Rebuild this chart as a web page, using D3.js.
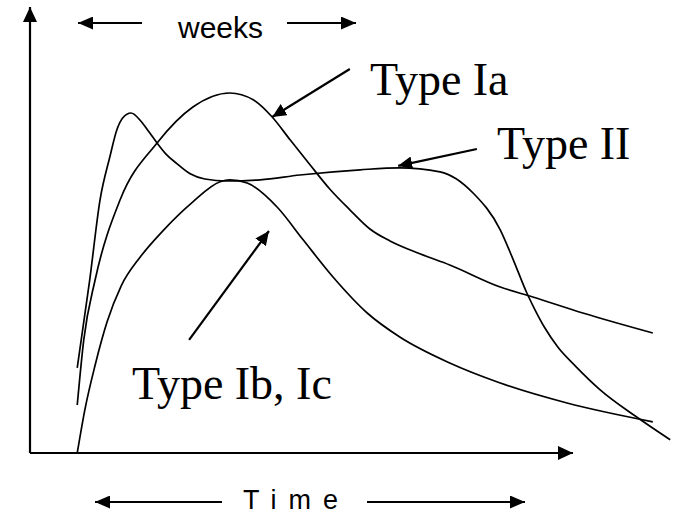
<!DOCTYPE html>
<html>
<head>
<meta charset="utf-8">
<script src="https://cdn.jsdelivr.net/npm/d3@7"></script>
<style>
  html, body { margin: 0; padding: 0; background: #fff; }
  svg { display: block; }
</style>
</head>
<body>
<svg id="chart" width="679" height="515"></svg>
<script>
// light curve sketches: time (days) vs brightness (arbitrary units)
const typeII_t = [8.7, 11.0, 12.9, 14.7, 16.0, 17.1, 18.6, 20.4, 21.9, 23.4, 25.0, 27.1, 29.5, 32.2, 36.3, 42.4, 49.7, 60.8, 68.1, 75.5, 81.6, 86.6, 89.0, 91.5, 93.0, 94.8, 97.2, 100.4, 105.0, 111.4, 117.9];
const typeII_b = [21.3, 43.3, 63.3, 74.0, 80.8, 83.8, 85.0, 83.0, 80.3, 77.5, 74.8, 72.3, 69.8, 68.5, 68.0, 68.3, 69.5, 70.8, 71.3, 70.3, 65.0, 55.8, 48.3, 40.0, 35.8, 31.3, 26.5, 21.8, 15.8, 9.3, 3.3];

const typeIa_t = [8.7, 9.9, 12.0, 16.6, 23.4, 30.0, 36.8, 41.1, 44.6, 47.9, 51.6, 55.2, 58.9, 62.6, 66.3, 71.8, 77.3, 86.6, 92.6, 101.8, 114.7];
const typeIa_b = [12.0, 28.3, 43.3, 63.3, 77.5, 86.5, 90.0, 88.3, 84.0, 78.3, 72.0, 66.0, 60.8, 56.0, 53.0, 49.8, 47.0, 41.5, 39.0, 35.0, 30.0];

const typeIb_t = [8.7, 10.1, 12.0, 14.2, 16.8, 20.3, 24.3, 30.0, 35.0, 36.8, 40.0, 45.5, 50.3, 55.8, 62.1, 68.1, 77.3, 86.6, 98.9, 114.7];
const typeIb_b = [0.0, 10.8, 22.0, 32.8, 41.8, 49.0, 55.3, 62.8, 67.8, 68.3, 67.5, 61.5, 53.3, 44.0, 35.0, 29.0, 22.5, 17.5, 12.5, 7.8];

const labels = ["Type Ia", "Type II", "Type Ib, Ic"];
const topLabel = "weeks";
const axisLabel = "Time";

const svg = d3.select("#chart");

const x = d3.scaleLinear().domain([0, 100]).range([30, 573]);
const y = d3.scaleLinear().domain([0, 100]).range([453, 53]);

const zip = (ts, bs) => ts.map((t, i) => ({ t: t, b: bs[i] }));

// arrowhead markers
const defs = svg.append("defs");
function marker(id, len, half) {
    defs.append("marker")
        .attr("id", id)
        .attr("viewBox", `0 ${-half} ${len} ${half * 2}`)
        .attr("refX", len)
        .attr("refY", 0)
        .attr("markerUnits", "userSpaceOnUse")
        .attr("markerWidth", len)
        .attr("markerHeight", half * 2)
        .attr("orient", "auto")
        .append("path")
        .attr("d", `M0,${-half}L${len},0L0,${half}Z`)
        .attr("fill", "#000");
}
marker("axisHead", 15, 7);
marker("smallHead", 15, 6.5);
marker("pointHead", 14, 6.5);

// axes (no ticks in this sketch)
svg.append("line")
    .attr("x1", x(0)).attr("y1", y(0))
    .attr("x2", x(0)).attr("y2", 7)
    .attr("stroke", "#000").attr("stroke-width", 2.2)
    .attr("marker-end", "url(#axisHead)");

svg.append("line")
    .attr("x1", x(0)).attr("y1", y(0))
    .attr("x2", x(100)).attr("y2", y(0))
    .attr("stroke", "#000").attr("stroke-width", 2.2)
    .attr("marker-end", "url(#axisHead)");

// curves
const line = d3.line()
    .x(d => x(d.t))
    .y(d => y(d.b))
    .curve(d3.curveMonotoneX);

[zip(typeII_t, typeII_b), zip(typeIa_t, typeIa_b), zip(typeIb_t, typeIb_b)].forEach(function (data) {
    svg.append("path")
        .datum(data)
        .attr("d", line)
        .attr("fill", "none")
        .attr("stroke", "#000")
        .attr("stroke-width", 1.7);
});

// pointers from labels to curves
const pointers = [
    { t0: 58.9, b0: 96.0, t1: 44.6, b1: 84.0 },
    { t0: 82.3, b0: 76.0, t1: 67.8, b1: 71.8 },
    { t0: 29.3, b0: 28.3, t1: 44.0, b1: 55.5 }
];
pointers.forEach(function (p) {
    svg.append("line")
        .attr("x1", x(p.t0)).attr("y1", y(p.b0))
        .attr("x2", x(p.t1)).attr("y2", y(p.b1))
        .attr("stroke", "#000").attr("stroke-width", 2.2)
        .attr("marker-end", "url(#pointHead)");
});

// curve labels
const serif = "'Liberation Serif', 'Times New Roman', serif";
const labelPos = [[370, 95], [497, 159], [132, 399]];
labels.forEach(function (txt, i) {
    svg.append("text")
        .attr("x", labelPos[i][0])
        .attr("y", labelPos[i][1])
        .attr("font-family", serif)
        .attr("font-size", 46)
        .text(txt);
});

// "weeks" with arrows
const sans = "'Liberation Sans', Arial, sans-serif";
svg.append("line")
    .attr("x1", 142).attr("y1", 23).attr("x2", 78).attr("y2", 23)
    .attr("stroke", "#000").attr("stroke-width", 2.2)
    .attr("marker-end", "url(#smallHead)");
svg.append("line")
    .attr("x1", 287).attr("y1", 23).attr("x2", 356).attr("y2", 23)
    .attr("stroke", "#000").attr("stroke-width", 2.2)
    .attr("marker-end", "url(#smallHead)");
svg.append("text")
    .attr("x", 178).attr("y", 38)
    .attr("font-family", sans)
    .attr("font-size", 30)
    .text(topLabel);

// "Time" with arrows
svg.append("line")
    .attr("x1", 222).attr("y1", 502).attr("x2", 95).attr("y2", 502)
    .attr("stroke", "#000").attr("stroke-width", 2.2)
    .attr("marker-end", "url(#smallHead)");
svg.append("line")
    .attr("x1", 367).attr("y1", 502).attr("x2", 525).attr("y2", 502)
    .attr("stroke", "#000").attr("stroke-width", 2.2)
    .attr("marker-end", "url(#smallHead)");
svg.append("text")
    .attr("x", 243).attr("y", 509)
    .attr("font-family", sans)
    .attr("font-size", 27)
    .attr("textLength", 95)
    .attr("lengthAdjust", "spacing")
    .text(axisLabel);
</script>
</body>
</html>
